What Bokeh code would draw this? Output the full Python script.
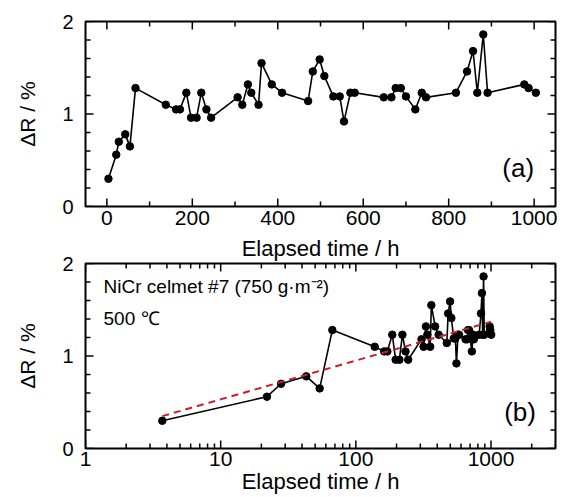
import math
from bokeh.plotting import figure
from bokeh.layouts import column
from bokeh.models import (LinearAxis, LogAxis, FixedTicker,
                          Label, Range1d, BasicTickFormatter)
from bokeh.embed import file_html
from bokeh.resources import INLINE

# ---- data ----
time_h = [3.7, 22, 28, 43, 54, 67, 138, 162, 171, 186,
          197, 210, 221, 233, 244, 306, 317, 330, 338, 355,
          362, 386, 410, 471, 482, 498, 509, 530, 545, 555,
          570, 580, 648, 666, 676, 688, 700, 722, 737, 747,
          817, 843, 857, 867, 881, 891, 977, 987, 1004]
delta_r = [0.30, 0.56, 0.70, 0.78, 0.65, 1.28, 1.10, 1.05, 1.05, 1.23,
           0.96, 0.96, 1.23, 1.05, 0.96, 1.18, 1.10, 1.32, 1.23, 1.10,
           1.55, 1.32, 1.23, 1.14, 1.46, 1.59, 1.41, 1.19, 1.19, 0.92,
           1.23, 1.23, 1.18, 1.18, 1.28, 1.28, 1.19, 1.05, 1.23, 1.18,
           1.23, 1.46, 1.68, 1.23, 1.86, 1.23, 1.32, 1.28, 1.23]
fit_time = [3.7, 1000]
fit_delta = [0.35, 1.37]

# tick values
lin_major = [0, 200, 400, 600, 800, 1000]
lin_minor = [100, 300, 500, 700, 900]
y_major = [0, 1, 2]
y_minor = [0.2, 0.4, 0.6, 0.8, 1.2, 1.4, 1.6, 1.8]
log_major = [1, 10, 100, 1000]
log_minor = [2, 3, 4, 5, 6, 7, 8, 9, 20, 30, 40, 50, 60, 70, 80, 90,
             200, 300, 400, 500, 600, 700, 800, 900, 2000, 3000]

FONT = "Liberation Sans"
XLABEL = "Elapsed time / h"
YLABEL = "\u0394R / %"
MAJOR_LEN = 16   # dash marker centred on the frame edge: half of it is inside
MINOR_LEN = 10
TICK_W = 1.5


def style_axis(ax, labels=True, fs="20px"):
    ax.axis_line_color = None
    ax.major_tick_line_color = None
    ax.minor_tick_line_color = None
    ax.major_tick_in = 0
    ax.major_tick_out = 0
    ax.minor_tick_in = 0
    ax.minor_tick_out = 0
    ax.major_label_text_font = FONT
    ax.major_label_text_color = "black"
    ax.axis_label_text_font = FONT
    ax.axis_label_text_font_style = "normal"
    ax.axis_label_text_color = "black"
    if labels:
        ax.major_label_text_font_size = fs
    else:
        ax.major_label_text_font_size = "0px"
        ax.major_label_text_alpha = 0
        ax.major_label_standoff = 0


def base_fig(**kw):
    p = figure(frame_width=470, frame_height=185, output_backend="svg",
               toolbar_location=None, min_border_left=85, min_border_right=3,
               **kw)
    p.grid.visible = False
    p.outline_line_color = "black"
    p.outline_line_width = 2
    p.outline_line_alpha = 1
    p.background_fill_color = None
    p.border_fill_color = None
    return p


def draw_ticks(p, xmaj, xmin, ymaj, ymin, x_lo, x_hi, y_lo, y_hi):
    for yy in (y_lo, y_hi):
        p.scatter(x=xmaj, y=[yy] * len(xmaj), marker="dash", angle=math.pi / 2,
                  size=MAJOR_LEN, line_color="black", line_width=TICK_W)
        p.scatter(x=xmin, y=[yy] * len(xmin), marker="dash", angle=math.pi / 2,
                  size=MINOR_LEN, line_color="black", line_width=TICK_W)
    for xx in (x_lo, x_hi):
        p.scatter(x=[xx] * len(ymaj), y=ymaj, marker="dash",
                  size=MAJOR_LEN, line_color="black", line_width=TICK_W)
        p.scatter(x=[xx] * len(ymin), y=ymin, marker="dash",
                  size=MINOR_LEN, line_color="black", line_width=TICK_W)


# ---- top: linear time ----
X1 = (-50, 1050)
p1 = base_fig(x_range=Range1d(*X1), y_range=Range1d(0, 2),
              min_border_top=21, min_border_bottom=26)
xt1 = FixedTicker(ticks=lin_major, minor_ticks=lin_minor)
yt = FixedTicker(ticks=y_major, minor_ticks=y_minor)
p1.xaxis.ticker = xt1
p1.yaxis.ticker = yt
for ax in p1.xaxis:
    style_axis(ax, fs="21px")
    ax.major_label_standoff = 4
for ax in p1.yaxis:
    style_axis(ax, fs="20px")
    ax.axis_label = YLABEL
    ax.axis_label_text_font_size = "21px"
    ax.major_label_standoff = 12
    ax.axis_label_standoff = 20
top1 = LinearAxis(ticker=xt1)
style_axis(top1, labels=False)
p1.add_layout(top1, "above")
right1 = LinearAxis(ticker=yt)
style_axis(right1, labels=False)
p1.add_layout(right1, "right")

draw_ticks(p1, lin_major, lin_minor, y_major, y_minor, X1[0], X1[1], 0, 2)
p1.line(time_h, delta_r, line_color="black", line_width=1.6)
p1.scatter(time_h, delta_r, size=7.5, fill_color="black", line_color="black")
p1.add_layout(Label(x=1000, y=0.42, text="(a)", text_align="right",
                    text_baseline="middle", text_font=FONT,
                    text_font_size="26px", text_color="black"))

# ---- bottom: log time (its top axis carries the upper panel's x title) ----
X2 = (1, 3000)
p2 = base_fig(x_axis_type="log", x_range=Range1d(*X2), y_range=Range1d(0, 2),
              min_border_top=29, min_border_bottom=30)
xt2 = FixedTicker(ticks=log_major, minor_ticks=log_minor)
p2.xaxis.ticker = xt2
p2.xaxis.formatter = BasicTickFormatter()
p2.yaxis.ticker = yt
for ax in p2.xaxis:
    style_axis(ax, fs="21px")
    ax.axis_label = XLABEL
    ax.axis_label_text_font_size = "22px"
    ax.major_label_standoff = 3
    ax.axis_label_standoff = 0
for ax in p2.yaxis:
    style_axis(ax, fs="20px")
    ax.axis_label = YLABEL
    ax.axis_label_text_font_size = "21px"
    ax.major_label_standoff = 12
    ax.axis_label_standoff = 20
top2 = LogAxis(ticker=xt2, formatter=BasicTickFormatter())
style_axis(top2, labels=False)
top2.axis_label = XLABEL
top2.axis_label_text_font_size = "22px"
top2.axis_label_standoff = 3
p2.add_layout(top2, "above")
right2 = LinearAxis(ticker=yt)
style_axis(right2, labels=False)
p2.add_layout(right2, "right")

draw_ticks(p2, log_major, log_minor, y_major, y_minor, X2[0], X2[1], 0, 2)
p2.line(time_h, delta_r, line_color="black", line_width=1.6)
p2.scatter(time_h, delta_r, size=7.5, fill_color="black", line_color="black")
p2.line(fit_time, fit_delta, line_color="#c8202a", line_width=2, line_dash="7 5")
p2.add_layout(Label(x=1.36, y=1.755, text="NiCr celmet #7 (750 g\u00b7m\u207b\u00b2)",
                    text_baseline="middle", text_font=FONT,
                    text_font_size="19px", text_color="black"))
p2.add_layout(Label(x=1.36, y=1.41, text="500 \u2103",
                    text_baseline="middle", text_font=FONT,
                    text_font_size="19px", text_color="black"))
p2.add_layout(Label(x=2150, y=0.39, text="(b)", text_align="right",
                    text_baseline="middle", text_font=FONT,
                    text_font_size="26px", text_color="black"))

layout = column(p1, p2, spacing=0)
open("out.html", "w").write(file_html(layout, INLINE))
